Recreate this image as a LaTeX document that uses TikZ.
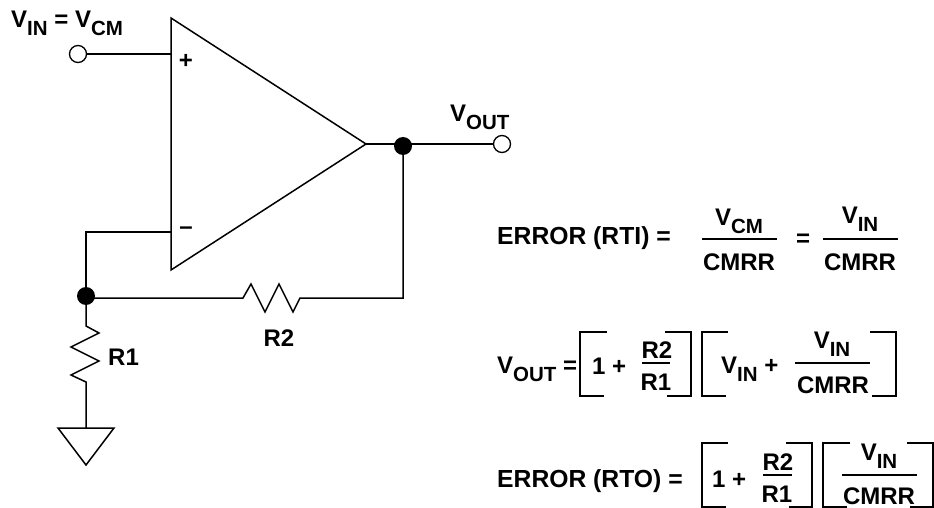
\documentclass[tikz,border=0pt]{standalone}
\usepackage{fontspec}
\setmainfont{Liberation Sans}[BoldFont={Liberation Sans Bold}]
\newcommand{\lowtext}[1]{\raisebox{-8pt}{\fontsize{20.5}{20.5}\selectfont #1}}
\tikzset{
	wire/.style={line width=1.5pt},
	txt/.style={inner sep=0pt,anchor=base,font=\fontsize{24}{24}\selectfont\bfseries},
	txtl/.style={txt,anchor=base west},
	txtw/.style={txtl,font=\fontsize{24.7}{24.7}\selectfont\bfseries},
	pin/.style={circle,draw,line width=1.3pt,fill=white,minimum size=17pt,inner sep=0pt},
	dot/.style={circle,fill=black,minimum size=18pt,inner sep=0pt}
}
\begin{document}
\begin{tikzpicture}[x=1pt,y=-1pt]
	\useasboundingbox (0,0) rectangle (934,508);
	% amplifier and feedback
	\draw[wire] (171,18) coordinate (ampt) -- (366,144) coordinate (ampo) -- (171,270) -- cycle;
	\coordinate (ampp) at (171,54);
	\coordinate (ampm) at (171,232);
	\coordinate (jinw) at (86,298);
	\node[pin] (vin) at (78,54) {};
	\node[pin] (vout) at (502,144) {};
	\node[dot] (jout) at (403,146) {};
	\node[dot] (jin) at (86,296) {};
	\draw[wire] (vin) -- (ampp);
	\draw[wire] (ampo) -- (vout);
	\draw[wire] (ampm) -| (jin);
	\draw[wire] (jinw) -- (243,298) -- ++(8,-14) -- ++(14,28) -- ++(14,-28) -- ++(14,28)
		-- ++(7,-14) -| (jout);
	\draw[wire] (jin) -- (86,326) -- ++(13,7) -- ++(-28,14) -- ++(28,14) -- ++(-28,14)
		-- ++(15,7) -- (86,428) coordinate (gnd);
	\draw[wire] (58,428) -- (114,428) -- (86,465) -- cycle;
	% circuit labels
	\node[txtl] (lvin) at (11,28) {V\lowtext{IN} = V\lowtext{CM}};
	\node[txtl] (lvout) at (450,122) {V\lowtext{OUT}};
	\node[txt] (lplus) at (186,69) {+};
	\node[txt] (lminus) at (186,234) {--};
	\node[txtl] (lr1) at (108,365) {R1};
	\node[txt] (lr2) at (279,346) {R2};
	% brackets
	\foreach \xa/\xb/\xc/\yt in {580/607/604/332,702/728/726/332,702/728/726/443,823/850/847/443}
		\draw[line width=1.2pt] (\xb,\yt) -- (\xa,\yt) -- (\xa,\yt+64) -- (\xc,\yt+64);
	\foreach \xa/\xb/\xc/\yt in {691/665/667/332,896/870/872/332,812/786/789/443,933/907/910/443}
		\draw[line width=1.2pt] (\xb,\yt) -- (\xa,\yt) -- (\xa,\yt+64) -- (\xc,\yt+64);
	% fraction bars
	\foreach \xa/\xb/\y in {702/777/239,823/898/239,642/670/363,795/870/363,763/792/475,842/917/475}
		\draw[wire] (\xa,\y) -- (\xb,\y);
	% first line
	\node[txtw] (rti) at (497,244) {ERROR (RTI) =};
	\node[txt] (rtia) at (739,225) {V\lowtext{CM}};
	\node[txt] (rtib) at (739,270) {CMRR};
	\node[txt] (rtic) at (803,246) {=};
	\node[txt] (rtid) at (860,223) {V\lowtext{IN}};
	\node[txt] (rtie) at (860,270) {CMRR};
	% second line
	\node[txtl] (out) at (497,373) {V\lowtext{OUT} =};
	\node[txtl] (outa) at (592,374) {1 +};
	\node[txt] (outb) at (657,358) {R2};
	\node[txt] (outc) at (656,390) {R1};
	\node[txtl] (outd) at (721,373) {V\lowtext{IN} +};
	\node[txt] (oute) at (832,348) {V\lowtext{IN}};
	\node[txt] (outf) at (833,393) {CMRR};
	% third line
	\node[txtw] (rto) at (497,487) {ERROR (RTO) =};
	\node[txtl] (rtoa) at (712,487) {1 +};
	\node[txt] (rtob) at (778,470) {R2};
	\node[txt] (rtoc) at (777,502) {R1};
	\node[txt] (rtod) at (879,460) {V\lowtext{IN}};
	\node[txt] (rtoe) at (879,504) {CMRR};
\end{tikzpicture}
\end{document}
